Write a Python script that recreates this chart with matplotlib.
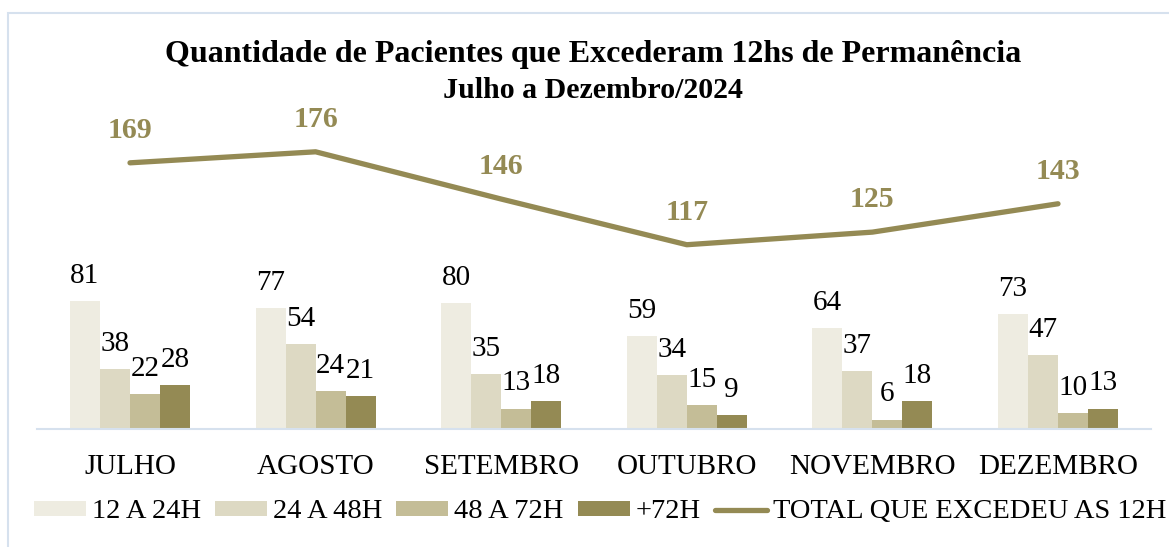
import matplotlib.pyplot as plt
import numpy as np
from matplotlib.patches import Rectangle

meses = ['JULHO', 'AGOSTO', 'SETEMBRO', 'OUTUBRO', 'NOVEMBRO', 'DEZEMBRO']
h12_24 = [81, 77, 80, 59, 64, 73]
h24_48 = [38, 54, 35, 34, 37, 47]
h48_72 = [22, 24, 13, 15, 6, 10]
h72_mais = [28, 21, 18, 9, 18, 13]
total = [169, 176, 146, 117, 125, 143]

series = [
    ('12 A 24H', h12_24, '#EEECE1'),
    ('24 A 48H', h24_48, '#DDD9C3'),
    ('48 A 72H', h48_72, '#C4BD97'),
    ('+72H', h72_mais, '#948A54'),
]
cor_linha = '#948A54'

plt.rcParams['font.family'] = ['Liberation Serif', 'DejaVu Serif']

fig = plt.figure(figsize=(11.69, 5.47), dpi=100)
W, H = 1169, 547
ax = fig.add_axes([37.2 / W, 118 / H, 1113.6 / W, 315 / H])

x = np.arange(len(meses))
w = 30 / 185.6
handles = []
for k, (nome, vals, cor) in enumerate(series):
    pos = x + (k - 1.5) * w
    b = ax.bar(pos, vals, width=w, color=cor, label=nome)
    handles.append(b)
    for px, v in zip(pos, vals):
        ax.annotate(str(v), (px, v), xytext=(0, 13), textcoords='offset points',
                    ha='center', va='baseline', fontsize=21, color='black')

ln, = ax.plot(x, total, color=cor_linha, lw=3.8, solid_capstyle='round',
              label='TOTAL QUE EXCEDEU AS 12H')
for px, v in zip(x, total):
    ax.annotate(str(v), (px, v), xytext=(0, 18), textcoords='offset points',
                ha='center', va='baseline', fontsize=21.5, fontweight='bold', color=cor_linha)

ax.set_xlim(-0.5, len(meses) - 0.5)
ax.set_ylim(0, 200)
ax.set_xticks(x)
ax.set_xticklabels(meses, fontsize=21)
ax.tick_params(axis='x', length=0, pad=18)
ax.set_yticks([])
for s in ['top', 'right', 'left']:
    ax.spines[s].set_visible(False)
ax.spines['bottom'].set_color('#D6E1EE')
ax.spines['bottom'].set_linewidth(1.5)

fig.legend(handles + [ln], [s[0] for s in series] + ['TOTAL QUE EXCEDEU AS 12H'],
           loc='center', bbox_to_anchor=(600 / W, 1 - 512 / H), ncol=5, frameon=False,
           fontsize=20.5, handlelength=1.83, handleheight=0.42, handletextpad=0.21,
           columnspacing=0.49, borderpad=0)

fig.text(593 / W, 1 - 62 / H, 'Quantidade de Pacientes que Excederam 12hs de Permanência',
         ha='center', va='baseline', fontsize=23, fontweight='bold')
fig.text(593 / W, 1 - 98 / H, 'Julho a Dezembro/2024',
         ha='center', va='baseline', fontsize=21.5, fontweight='bold')

# moldura do gráfico
fig.patches.append(Rectangle((8 / W, -0.1), 1.2, 1.1 - 13 / H, transform=fig.transFigure,
                             fill=False, edgecolor='#D6E1EE', lw=1.5))

fig.savefig('out.png', dpi=100)
